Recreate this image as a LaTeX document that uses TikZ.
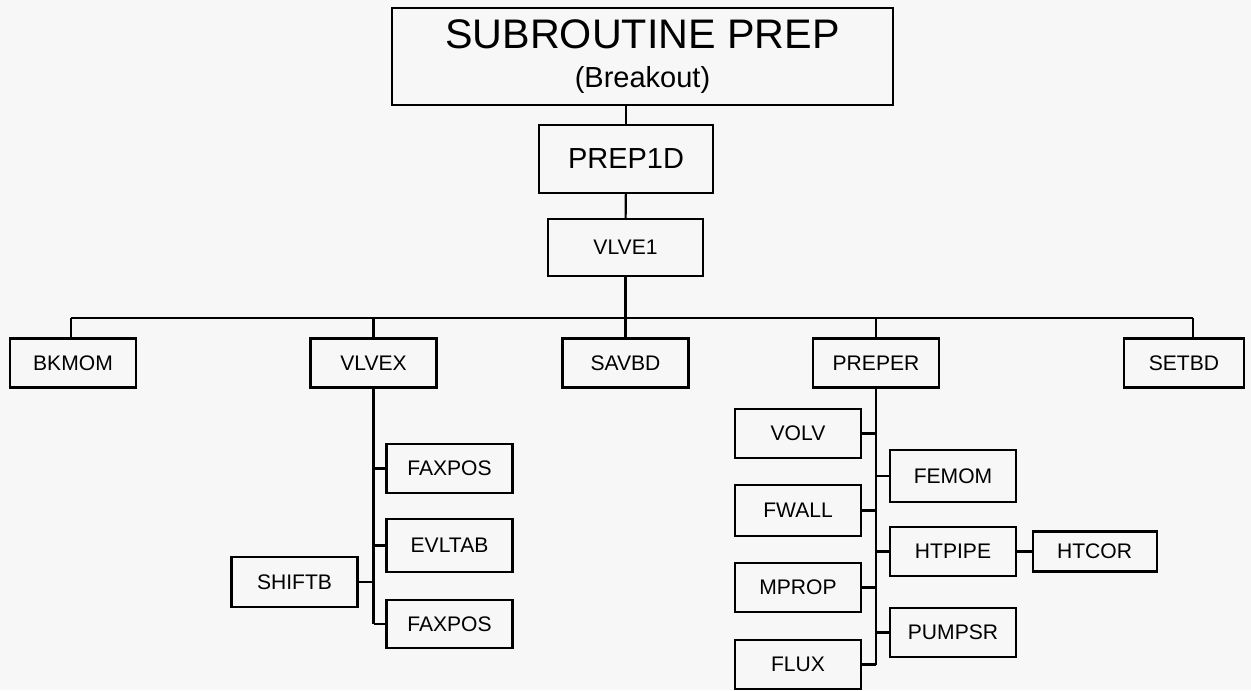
\documentclass[tikz,border=0pt]{standalone}
\usepackage{fontspec}
\setsansfont{Liberation Sans}
\usepackage{xcolor}
\usepackage{tikz}
\usetikzlibrary{positioning, calc}
\definecolor{paper}{RGB}{247,247,247}
\tikzset{
  callbox/.style={
    draw, line width=1.2pt, align=center, fill=paper,
    font=\sffamily\fontsize{12}{14}\selectfont,
    minimum width=2.52cm, minimum height=0.98cm, inner sep=2pt
  },
  titlebox/.style={
    draw, line width=1.2pt, align=center, fill=paper,
    font=\sffamily\fontsize{16.5}{22}\selectfont,
    minimum width=10.02cm, minimum height=1.94cm
  },
  calllink/.style={line width=1.2pt}
}

\begin{document}
\begin{tikzpicture}[x=0.02cm, y=-0.02cm]
  \fill[paper] (0,0) rectangle (1251,690);
  \useasboundingbox (0,0) rectangle (1251,690);

  % ── Top of the tree ──
  \node[titlebox] (prep) at (642.5,56.5)
    {{\fontsize{23.5}{22}\selectfont SUBROUTINE PREP}\\(Breakout)};

  \node[callbox, font=\sffamily\fontsize{16.5}{19}\selectfont,
    minimum width=3.48cm, minimum height=1.36cm] (prep1d) at (626,159) {PREP1D};

  \node[callbox, minimum width=3.1cm, minimum height=1.14cm]
    (vlve1) at (625.5,247.5) {VLVE1};

  \draw[calllink] (prep1d) -- (prep1d |- prep.south);
  \draw[calllink] (vlve1) -- (prep1d);

  % ── Calls of VLVE1 ──
  \coordinate (busl) at (71,318);
  \coordinate (busr) at (1193,318);

  \node[callbox] (bkmom)  at (73,363)    {BKMOM};
  \node[callbox] (vlvex)  at (373.5,363) {VLVEX};
  \node[callbox] (savbd)  at (625.5,363) {SAVBD};
  \node[callbox] (preper) at (876,363)   {PREPER};
  \node[callbox, minimum width=2.4cm] (setbd) at (1184,363) {SETBD};

  \draw[calllink] (busl) -- (busr);
  \draw[calllink] (vlve1) -- (savbd);
  \draw[calllink] (busl) -- (busl |- bkmom.north);
  \draw[calllink] (vlvex) -- (vlvex |- busl);
  \draw[calllink] (preper) -- (preper |- busl);
  \draw[calllink] (busr) -- (busr |- setbd.north);

  % ── Calls of VLVEX ──
  \node[callbox, minimum height=0.98cm] (faxpos1) at (449.5,468.5) {FAXPOS};
  \node[callbox, minimum height=1.06cm] (evltab)  at (449.5,545.5) {EVLTAB};
  \node[callbox, minimum height=0.96cm] (faxpos2) at (449.5,624)   {FAXPOS};
  \node[callbox, minimum height=1cm]    (shiftb)  at (294.5,582)   {SHIFTB};

  \draw[calllink] (vlvex) -- (vlvex |- faxpos2);
  \foreach \callee in {faxpos1, evltab, faxpos2, shiftb}
    \draw[calllink] (\callee) -- (vlvex |- \callee);

  % ── Calls of PREPER ──
  \node[callbox] (volv)  at (798,433.5) {VOLV};
  \node[callbox, minimum height=1.02cm] (fwall) at (798,510.5) {FWALL};
  \node[callbox] (mprop) at (798,587.5) {MPROP};
  \node[callbox] (flux)  at (798,664.5) {FLUX};

  \node[callbox, minimum height=1.04cm] (femom) at (953,476) {FEMOM};
  \node[callbox] (htpipe) at (953,551.5) {HTPIPE};
  \node[callbox] (pumpsr) at (953,632.5) {PUMPSR};
  \node[callbox, minimum width=2.48cm, minimum height=0.8cm,
    right=0.29cm of htpipe] (htcor) {HTCOR};

  \draw[calllink] (preper) -- (preper |- flux);
  \foreach \callee in {volv, fwall, mprop, flux, femom, htpipe, pumpsr}
    \draw[calllink] (\callee) -- (preper |- \callee);
  \draw[calllink] (htpipe) -- (htcor);
\end{tikzpicture}
\end{document}
